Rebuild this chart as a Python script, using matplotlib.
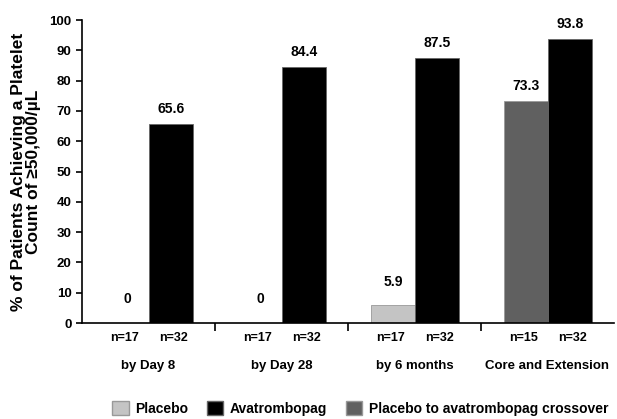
import matplotlib.pyplot as plt
from matplotlib.patches import Patch

plt.rcParams["font.family"] = ["Liberation Sans", "DejaVu Sans"]
plt.rcParams["font.weight"] = "bold"

# Data
categories = ["by Day 8", "by Day 28", "by 6 months", "Core and Extension"]
placebo = [0, 0, 5.9, None]
avatrombopag = [65.6, 84.4, 87.5, 93.8]
crossover = [None, None, None, 73.3]
left_n = ["n=17", "n=17", "n=17", "n=15"]
right_n = ["n=32", "n=32", "n=32", "n=32"]

c_placebo = "#c4c4c4"
c_avat = "#000000"
c_cross = "#606060"

fig = plt.figure(figsize=(6.17, 4.19), dpi=100)
ax = fig.add_axes([0.133, 0.229, 0.862, 0.723])

width = 0.33
tr = ax.get_xaxis_transform()
for i in range(len(categories)):
    # left bar: placebo or crossover
    if placebo[i] is not None:
        val, col = placebo[i], c_placebo
    else:
        val, col = crossover[i], c_cross
    lx = i + 0.34
    rx = i + 0.67
    ax.bar(lx, val, width, color=col, edgecolor="#999999",
           linewidth=0.6 if val > 0 else 0)
    ax.bar(rx, avatrombopag[i], width, color=c_avat, edgecolor="#666666",
           linewidth=0.6)
    lbl = f"{val:g}" if val else "0"
    ax.annotate(lbl, (lx, val), xytext=(0, 12 if val < 10 else 6),
                textcoords="offset points", ha="center", va="bottom",
                fontsize=10, fontweight="bold")
    ax.annotate(f"{avatrombopag[i]:g}", (rx, avatrombopag[i]), xytext=(0, 6),
                textcoords="offset points", ha="center", va="bottom",
                fontsize=10, fontweight="bold")
    ax.annotate(left_n[i], (lx, 0), xycoords=tr, xytext=(-2, -11),
                textcoords="offset points", ha="center", va="center",
                fontsize=9)
    ax.annotate(right_n[i], (rx, 0), xycoords=tr, xytext=(2, -11),
                textcoords="offset points", ha="center", va="center",
                fontsize=9)
    ax.annotate(categories[i], (i + 0.5, 0), xycoords=tr, xytext=(0, -31),
                textcoords="offset points", ha="center", va="center",
                fontsize=9.5)

ax.set_xlim(0, 4)
ax.set_ylim(0, 100)
ax.set_yticks(range(0, 101, 10))
ax.set_xticks([1, 2, 3])
ax.set_xticklabels([])
ax.tick_params(axis="x", length=6, width=1.2, direction="out")
ax.tick_params(axis="y", length=4, width=1.2, direction="out", labelsize=9.5)
for lab in ax.get_yticklabels():
    lab.set_fontweight("bold")
ax.spines["top"].set_visible(False)
ax.spines["right"].set_visible(False)
ax.spines["left"].set_linewidth(1.2)
ax.spines["bottom"].set_linewidth(1.2)
ax.set_ylabel("% of Patients Achieving a Platelet\nCount of \u226550,000/\u00b5L",
              fontsize=12.5, fontweight="bold", labelpad=6, linespacing=1.05)

handles = [Patch(facecolor=c_placebo, edgecolor="#999999"),
           Patch(facecolor=c_avat, edgecolor="#666666"),
           Patch(facecolor=c_cross, edgecolor="#999999")]
fig.legend(handles, ["Placebo", "Avatrombopag", "Placebo to avatrombopag crossover"],
           loc="center right", bbox_to_anchor=(1.0, 0.025), ncol=3, frameon=False,
           prop={"size": 10, "weight": "bold"},
           handlelength=1.2, handleheight=1.2, columnspacing=1.3,
           handletextpad=0.5, borderaxespad=0.2)

fig.savefig("out.png", dpi=100)
